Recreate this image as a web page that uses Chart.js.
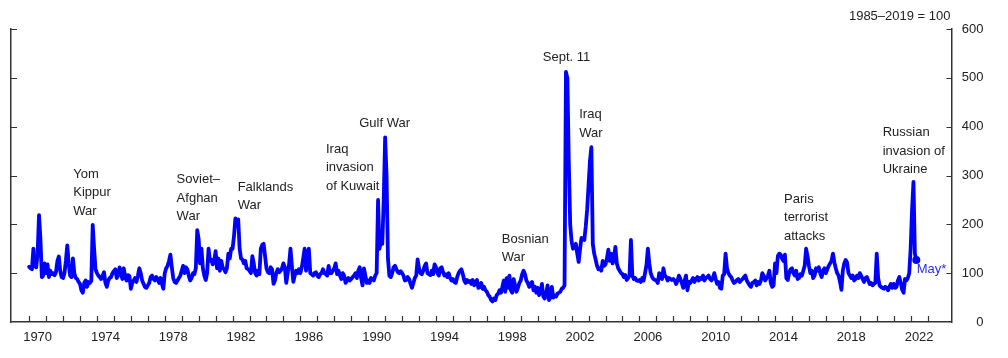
<!DOCTYPE html>
<html>
<head>
<meta charset="utf-8">
<script src="https://cdn.jsdelivr.net/npm/chart.js@4"></script>
<style>
  html, body { margin: 0; padding: 0; background: #fff; }
  #wrap { width: 1008px; height: 358px; }
</style>
</head>
<body>
<div id="wrap"><canvas id="c" width="1008" height="358"></canvas></div>
<script>
// Monthly geopolitical risk index, 1985–2019 = 100
const startYear = 1970;
const gpr1970s = [
  113,110,108,150,115,112,140,219,170,92,95,120,   // 1970
  100,118,92,105,98,100,96,102,125,134,105,92,     // 1971
  90,100,125,157,120,95,92,130,100,90,88,82,       // 1972
  78,65,60,80,85,72,82,80,84,199,150,108,          // 1973
  100,95,92,88,95,102,80,72,85,90,92,100,          // 1974
  104,108,90,95,112,100,88,110,92,85,96,94,        // 1975
  68,80,85,90,82,95,110,100,85,78,72,70,           // 1976
  75,80,92,95,88,85,92,88,80,90,78,68,             // 1977
  100,110,115,125,138,112,90,82,80,85,90,95,       // 1978
  105,115,100,112,108,95,85,90,100,98,110,188      // 1979
];
const gpr1980s = [
  170,120,150,110,95,86,100,150,125,128,118,125,   // 1980
  145,110,130,105,125,112,108,102,110,140,130,150, // 1981
  150,175,212,208,210,150,130,128,120,125,110,108, // 1982
  105,100,135,120,100,95,105,98,150,158,160,135,   // 1983
  110,102,100,112,108,78,85,100,108,102,105,110,   // 1984
  120,112,80,100,118,150,115,82,95,105,100,108,    // 1985
  100,112,130,150,105,140,150,100,98,95,100,102,   // 1986
  95,92,98,100,108,100,98,95,115,100,100,105,      // 1987
  110,120,98,105,95,88,100,95,80,85,90,85,         // 1988
  88,92,95,100,90,105,112,90,75,110,95,80          // 1989
];
const gpr1990s = [
  85,80,90,88,85,95,100,250,150,165,160,250,       // 1990
  378,300,130,95,92,100,112,115,108,102,100,104,   // 1991
  100,95,85,86,92,88,78,70,80,90,95,128,           // 1992
  110,100,98,105,115,120,100,98,96,105,98,118,     // 1993
  112,100,95,110,112,102,95,98,92,100,90,85,       // 1994
  88,82,80,92,100,105,108,98,85,80,86,82,          // 1995
  84,78,86,75,80,86,70,72,80,68,72,65,             // 1996
  62,55,52,45,42,48,45,55,58,65,60,72,             // 1997
  85,62,90,70,95,65,60,88,75,62,70,80,             // 1998
  85,98,105,98,85,80,72,78,82,65,72,60             // 1999
];
const gpr2000s = [
  70,55,62,78,52,48,58,75,45,50,72,50,             // 2000
  55,52,58,60,62,68,70,75,512,500,330,200,         // 2001
  165,150,155,160,140,123,150,172,170,168,195,230, // 2002
  280,330,358,160,140,128,115,108,110,105,125,115, // 2003
  118,130,148,125,140,120,130,154,120,110,105,100, // 2004
  98,92,96,86,90,95,168,95,88,90,85,84,            // 2005
  86,82,90,85,100,117,150,120,100,92,88,86,        // 2006
  85,80,100,95,88,110,95,92,85,90,88,86,           // 2007
  88,85,78,85,95,88,80,70,85,95,65,82,             // 2008
  80,85,90,82,88,92,85,90,88,95,85,90              // 2009
];
const gpr2010s = [
  92,95,88,85,90,100,88,78,82,70,68,95,            // 2010
  98,140,110,100,95,92,85,80,82,86,88,82,          // 2011
  85,88,92,95,85,80,75,72,80,82,85,75,             // 2012
  82,78,85,100,95,85,90,95,105,80,72,75,           // 2013
  120,100,135,140,138,130,125,138,90,86,100,108,   // 2014
  110,100,95,105,88,90,98,95,105,115,150,135,      // 2015
  115,100,105,90,95,110,105,112,100,92,105,110,    // 2016
  100,108,115,120,125,140,122,110,100,95,82,66,    // 2017
  105,120,127,122,100,95,90,95,85,88,95,90,        // 2018
  100,95,88,82,90,92,85,78,80,75,78,80             // 2019
];
const gpr2020s = [
  140,90,75,72,70,68,72,70,65,72,78,70,            // 2020
  78,70,72,85,92,80,66,60,88,85,90,100,            // 2021
  150,230,287,140,127                              // 2022 (Jan–May)
];

const xTickYears = [];
for (let y = 1970; y <= 2023; y++) xTickYears.push(y);
const xLabelYears = [1970,1974,1978,1982,1986,1990,1994,1998,2002,2006,2010,2014,2018,2022];
const yTickValues = [0,100,200,300,400,500,600];

const events = [
  { lines: ['Yom', 'Kippur', 'War'], year: 1972.60, value: 303 },
  { lines: ['Soviet–', 'Afghan', 'War'], year: 1978.70, value: 291 },
  { lines: ['Falklands', 'War'], year: 1982.30, value: 276 },
  { lines: ['Iraq', 'invasion', 'of Kuwait'], year: 1987.51, value: 354 },
  { lines: ['Gulf War'], year: 1989.47, value: 407 },
  { lines: ['Bosnian', 'War'], year: 1997.88, value: 170 },
  { lines: ['Sept. 11'], year: 2000.30, value: 542 },
  { lines: ['Iraq', 'War'], year: 2002.45, value: 425 },
  { lines: ['Paris', 'terrorist', 'attacks'], year: 2014.53, value: 252 },
  { lines: ['Russian', 'invasion of', 'Ukraine'], year: 2020.35, value: 388 }
];
const lastLabel = { text: 'May*', year: 2022.36, value: 108 };
const unitNote = '1985–2019 = 100';

const series = [...gpr1970s, ...gpr1980s, ...gpr1990s, ...gpr2000s, ...gpr2010s, ...gpr2020s];
const points = series.map((v, i) => ({ x: startYear + i / 12, y: v }));

const FONT = '"Liberation Sans", Arial, Helvetica, sans-serif';
const TXT = '#222222';
const AXIS = '#333333';

const decor = {
  id: 'decor',
  afterDraw(chart) {
    const { ctx, chartArea: a } = chart;
    const xs = chart.scales.x, yr = chart.scales.yR;
    ctx.save();
    ctx.strokeStyle = AXIS;
    ctx.lineWidth = 1.2;
    ctx.beginPath();
    xTickYears.forEach(y => {
      const px = Math.round(xs.getPixelForValue(y)) + 0.5;
      ctx.moveTo(px, a.bottom); ctx.lineTo(px, a.bottom - 6);
    });
    yTickValues.forEach(v => {
      if (v === 0) return;
      const py = Math.round(yr.getPixelForValue(v)) + 0.5;
      ctx.moveTo(a.left, py); ctx.lineTo(a.left + 6, py);
      ctx.moveTo(a.right, py); ctx.lineTo(a.right - 5, py);
    });
    ctx.stroke();

    ctx.fillStyle = TXT;
    ctx.font = '13px ' + FONT;
    ctx.textAlign = 'left';
    ctx.textBaseline = 'middle';
    events.forEach(ev => {
      const px = xs.getPixelForValue(ev.year);
      const py = yr.getPixelForValue(ev.value);
      ev.lines.forEach((t, i) => ctx.fillText(t, px, py + i * 18.5));
    });
    ctx.fillStyle = '#2b2bf0';
    ctx.fillText(lastLabel.text, xs.getPixelForValue(lastLabel.year), yr.getPixelForValue(lastLabel.value));

    ctx.fillStyle = TXT;
    ctx.textAlign = 'right';
    ctx.fillText(unitNote, a.right - 1, a.top - 13);
    ctx.restore();
  }
};

new Chart(document.getElementById('c'), {
  type: 'line',
  data: {
    datasets: [{
      data: points,
      yAxisID: 'yR',
      borderColor: '#0000ff',
      backgroundColor: '#0000ff',
      borderWidth: 3.8,
      borderJoinStyle: 'round',
      borderCapStyle: 'round',
      tension: 0,
      fill: false,
      pointRadius: ctx => (ctx.dataIndex === points.length - 1 ? 4 : 0),
      pointHoverRadius: 0,
      pointBorderWidth: 0
    }]
  },
  options: {
    responsive: false,
    animation: false,
    layout: { padding: { top: 29, left: 11, right: 24.5, bottom: 0 } },
    plugins: { legend: { display: false }, tooltip: { enabled: false } },
    scales: {
      x: {
        type: 'linear',
        position: 'bottom',
        min: 1968.93,
        max: 2024.41,
        afterFit: s => { s.height = 36; },
        afterBuildTicks: s => { s.ticks = xLabelYears.map(y => ({ value: y + 0.5 })); },
        ticks: {
          callback: v => String(Math.floor(v)),
          autoSkip: false, maxRotation: 0, padding: 8,
          color: TXT, font: { family: FONT, size: 13 }
        },
        grid: { display: true, drawOnChartArea: false, drawTicks: false },
        border: { display: true, color: AXIS, width: 1.5 }
      },
      yR: {
        position: 'right',
        min: 0, max: 600,
        afterBuildTicks: s => { s.ticks = yTickValues.map(v => ({ value: v })); },
        afterFit: s => { s.width = 32; },
        ticks: {
          crossAlign: 'far', padding: 10,
          color: TXT, font: { family: FONT, size: 13 }
        },
        grid: { display: true, drawOnChartArea: false, drawTicks: false },
        border: { display: true, color: AXIS, width: 1.5 }
      },
      yL: {
        position: 'left',
        min: 0, max: 600,
        afterFit: s => { s.width = 0; },
        ticks: { display: false },
        grid: { display: true, drawOnChartArea: false, drawTicks: false },
        border: { display: true, color: AXIS, width: 1.5 }
      }
    }
  },
  plugins: [decor]
});
</script>
</body>
</html>
